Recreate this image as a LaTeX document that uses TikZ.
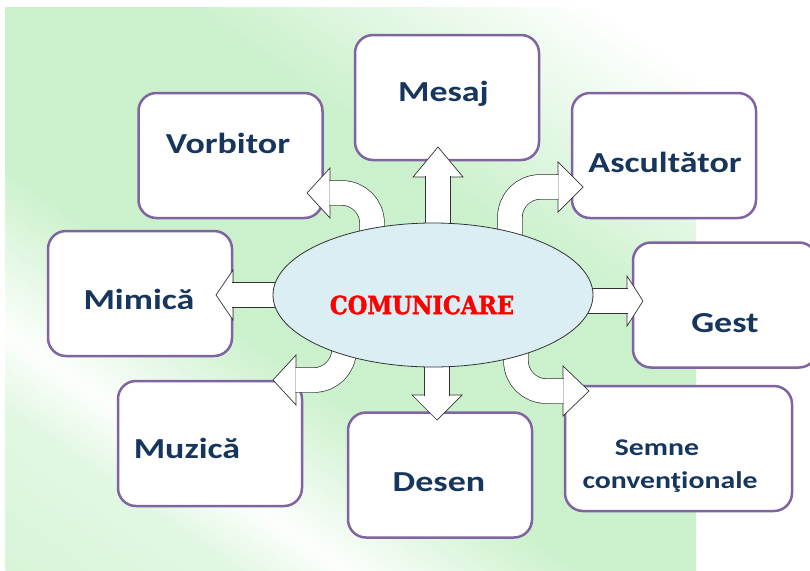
\documentclass[tikz,border=0pt]{standalone}
\usepackage{fontspec}
\usetikzlibrary{calc,shapes.geometric}
\newfontfamily\boxfont[FakeStretch=1.24]{Carlito}
\newfontfamily\titlefont[FakeBold=1.6]{DejaVu Serif Condensed}
\definecolor{bggreen}{RGB}{203,241,204}
\definecolor{boxline}{RGB}{128,100,162}
\definecolor{labelblue}{RGB}{23,54,93}
\definecolor{ellfill}{RGB}{218,238,243}
\pgfdeclarelayer{front}
\pgfsetlayers{main,front}
\tikzset{
  box/.style={draw=boxline, line width=2.5pt, fill=white, rounded corners=18pt,
    minimum width=184pt, minimum height=125pt, inner sep=0pt},
  lbl/.style={text=labelblue, font=\boxfont\bfseries\fontsize{29}{32}\selectfont,
    anchor=base, inner sep=0pt},
  smalllbl/.style={lbl, font=\boxfont\bfseries\fontsize{24}{33}\selectfont},
  shaft/.style={draw=black!80, line width=0.7pt, double=white, double distance=24pt},
  head/.style={draw=black!80, line width=0.7pt, fill=white, line join=miter}
}
% arrow head: base, tip
\newcommand{\blockhead}[2]{%
  \draw[head] ($(#1)!25pt!90:(#2)$) -- (#2) -- ($(#1)!25pt!-90:(#2)$) -- cycle;}
\begin{document}
\begin{tikzpicture}[x=1pt, y=-1pt]
  \useasboundingbox (0,0) rectangle (810,570);
  % background
  \begin{scope}
    \clip (5,7) rectangle (696,570);
    \begin{scope}[shift={(5pt,-570pt)}, rotate=55, x=1pt, y=1pt]
      \foreach \s in {0,6,...,846} {
        \pgfmathsetmacro\g{\s<130 ? 75-0.15*\s : (\s<192 ? 55-0.8*(\s-130) : (\s<330 ? min(100,5+0.7*(\s-192)) : (\s<560 ? 100 : max(0,100-(\s-560)/2.4))))}
        \fill[bggreen!\g!white] (\s,-700) rectangle (\s+6.5,700);
      }
    \end{scope}
  \end{scope}

  % boxes
  \node[box] (vorbitor) at (230.5,155.5) {};
  \node[box] (mesaj) at (447,97.5) {};
  \node[box] (ascultator) at (664,155.5) {};
  \node[box] (mimica) at (140,293.5) {};
  \node[box] (gest) at (725,305) {};
  \node[box] (muzica) at (210,443.5) {};
  \node[box] (desen) at (440,475) {};
  \node[box, minimum width=227pt] (semne) at (678.5,448.5) {};

  \node[lbl] at (228,153) {Vorbitor};
  \node[lbl] at (443.5,101) {Mesaj};
  \node[lbl] at (665,172) {Ascultător};
  \node[lbl] at (139,309) {Mimică};
  \node[lbl] at (725,332) {Gest};
  \node[lbl] at (187,458) {Muzică};
  \node[lbl] at (439,491) {Desen};
  \node[smalllbl] at (657,455) {Semne};
  \node[smalllbl] at (670,488) {convenţionale};

  % centre
  \begin{pgfonlayer}{front}
    \node[ellipse, draw=black!80, line width=0.8pt, fill=ellfill, minimum width=320pt,
      minimum height=144pt, inner sep=0pt] (ell) at (433,295) {};
    \node[text=red, font=\titlefont\bfseries\fontsize{25}{28}\selectfont, inner sep=0pt]
      at ([xshift=-11pt,yshift=-10pt]ell.center) {COMUNICARE};
  \end{pgfonlayer}

  % straight arrows
  \coordinate (mesajtip) at (438,147);
  \blockhead{438,177}{mesajtip}
  \draw[shaft] ($(ell)+(5,-40)$) -- (438,176.4);

  \coordinate (mimicatip) at (216,295);
  \blockhead{233,295}{mimicatip}
  \draw[shaft] ($(ell)+(-100,0)$) -- (232.4,295);

  \coordinate (gesttip) at (643,301);
  \blockhead{627,301}{gesttip}
  \draw[shaft] ($(ell)+(100,6)$) -- (627.6,301);

  \coordinate (desentip) at (437,420);
  \blockhead{437,395}{desentip}
  \draw[shaft] ($(ell)+(4,40)$) -- (437,395.6);

  % curved arrows
  \coordinate (vorbitortip) at (307,193);
  \blockhead{330,193}{vorbitortip}
  \draw[shaft, rounded corners=30pt] ($(ell)+(-61,-20)$) |- (329.4,193);

  \coordinate (ascultatortip) at (583,187);
  \blockhead{558,187}{ascultatortip}
  \draw[shaft, rounded corners=30pt] ($(ell)+(77,-20)$) |- (558.6,187);

  \coordinate (muzicatip) at (273,380);
  \blockhead{296,380}{muzicatip}
  \draw[shaft, rounded corners=30pt] ($(ell)+(-89,20)$) |- (295.4,380);

  \coordinate (semnetip) at (589,391);
  \blockhead{563,391}{semnetip}
  \draw[shaft, rounded corners=30pt] ($(ell)+(83,20)$) |- (563.6,391);
\end{tikzpicture}
\end{document}
